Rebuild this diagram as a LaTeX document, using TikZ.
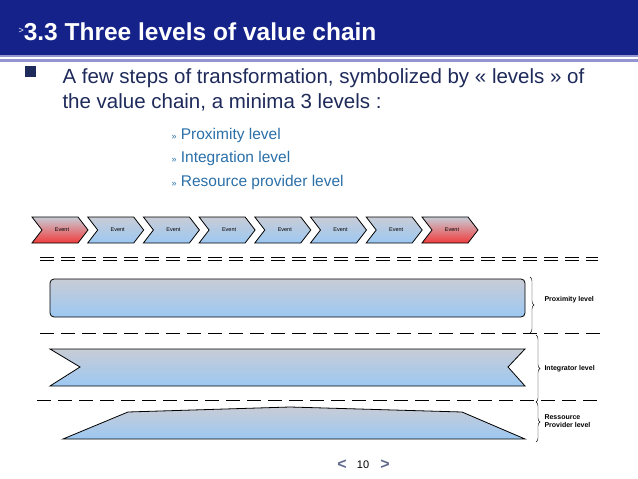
\documentclass[tikz,border=0pt]{standalone}
\usepackage{fontspec}
\setmainfont{Liberation Sans}
\usetikzlibrary{decorations.pathreplacing}
\definecolor{titleblue}{HTML}{14228A}
\definecolor{navy}{HTML}{1E2A5A}
\definecolor{subblue}{HTML}{2A6FA8}
\definecolor{topgray}{HTML}{C8CCD6}
\definecolor{lowblue}{HTML}{9CC8F2}
\definecolor{lowred}{HTML}{F03C3C}
\tikzset{
  bluefill/.style={draw, thick, top color=topgray, bottom color=lowblue},
  redfill/.style={draw, thick, top color=topgray, bottom color=lowred},
  sepline/.style={thick, dash pattern=on 14pt off 7pt},
  lvlbrace/.style={decorate, decoration={brace, amplitude=4pt}},
  lvltext/.style={anchor=west, font=\fontsize{7}{8}\selectfont\bfseries, align=left},
  introtext/.style={anchor=base west, text=navy, font=\fontsize{20.5}{22}\selectfont},
  subtext/.style={anchor=base west, text=subblue, font=\fontsize{15.5}{17}\selectfont}
}
\newcommand{\chev}[3]{%
  \draw[#3] (#1,217) -- (#1+46,217) -- (#1+56,230) -- (#1+46,243) -- (#1,243) -- (#1+10,230) -- cycle;
  \node[font=\fontsize{5.5}{6}\selectfont] at (#1+30,230) {#2};}
\newcommand{\subarrow}{{\fontsize{9}{9}\selectfont »}}
\begin{document}
\begin{tikzpicture}[x=1pt,y=-1pt]
\useasboundingbox (0,0) rectangle (638,479);

% title bar
\fill[titleblue] (0,0) rectangle (638,55);
\fill[gray!60!blue!60] (0,55) rectangle (638,62);
\fill[white] (0,57) rectangle (638,59);
\node[anchor=base west, text=white, font=\fontsize{24.5}{26}\selectfont\bfseries] (title) at (15,40) {\raisebox{7pt}{\fontsize{9}{9}\selectfont\mdseries >}3.3 Three levels of value chain};

% bullet text
\fill[navy] (25,66) rectangle (36,77);
\node[introtext] (intro1) at (59,83) {A few steps of transformation, symbolized by « levels » of};
\node[introtext] (intro2) at (59,108) {the value chain, a minima 3 levels :};
\node[subtext] (sub1) at (168,139) {\subarrow\ Proximity level};
\node[subtext] (sub2) at (168,162) {\subarrow\ Integration level};
\node[subtext] (sub3) at (168,186) {\subarrow\ Resource provider level};

% chain of events
\chev{32}{Event}{redfill}
\foreach \i in {1,...,6}{\chev{32+55.7*\i}{Event}{bluefill}}
\chev{422}{Event}{redfill}

% separators
\draw[sepline] (40,257) -- (598,257);
\draw[sepline] (40,260) -- (598,260);
\draw[sepline] (40,333) -- (600,333);
\draw[sepline] (37,400) -- (598,400);

% levels
\draw[bluefill, rounded corners=4pt] (50,279) rectangle (525,317);
\draw[bluefill] (50,349) -- (525,349) -- (508,367) -- (525,386) -- (50,386) -- (80,367) -- cycle;
\draw[bluefill] (63,439) -- (128,412) -- (290,407) -- (462,412) -- (525,439) -- cycle;

% braces
\draw[lvlbrace] (530,277) -- (530,333);
\draw[lvlbrace] (536,335) -- (536,402);
\draw[lvlbrace] (536,402) -- (536,442);
\node[lvltext] (prox) at (541,300) {Proximity level};
\node[lvltext] (integ) at (541,369) {Integrator level};
\node[lvltext] (ress) at (541,421) {Ressource\\Provider level};

% page number
\node[text=navy!70!white, font=\fontsize{16}{16}\selectfont\bfseries] (prev) at (342,465) {<};
\node[font=\fontsize{11}{11}\selectfont\rmfamily] (page) at (363,465) {10};
\node[text=navy!70!white, font=\fontsize{16}{16}\selectfont\bfseries] (next) at (385,465) {>};
\end{tikzpicture}
\end{document}
